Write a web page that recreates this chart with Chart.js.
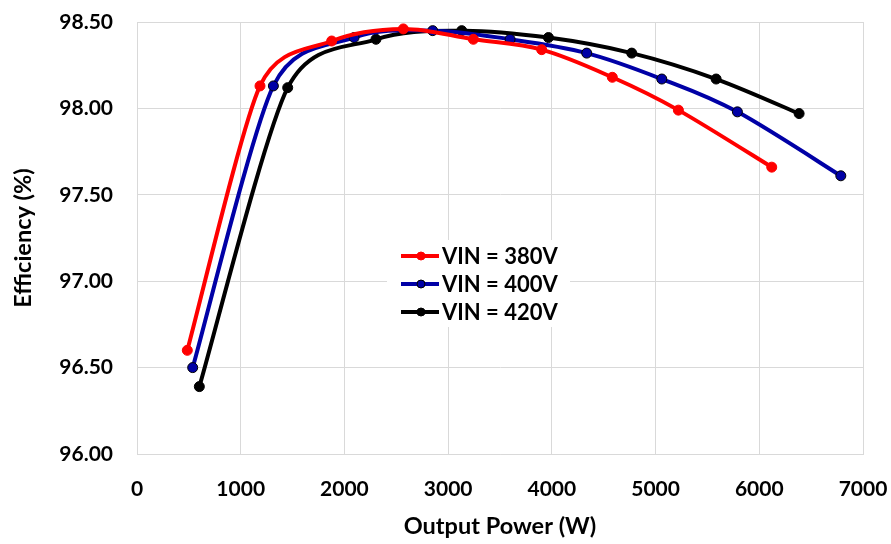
<!DOCTYPE html>
<html>
<head>
<meta charset="utf-8">
<script src="https://cdn.jsdelivr.net/npm/chart.js@4.4.0/dist/chart.umd.min.js"></script>
<style>
  html, body { margin: 0; padding: 0; background: #fff; }
  #wrap { width: 891px; height: 544px; }
</style>
</head>
<body>
<div id="wrap"><canvas id="myChart" width="891" height="544"></canvas></div>
<script>
// data
const labels = ['VIN = 380V', 'VIN = 400V', 'VIN = 420V'];
const power380 = [485, 1186, 1877, 2568, 3243, 3902, 4583, 5220, 6120];
const eff380 = [96.60, 98.13, 98.39, 98.46, 98.40, 98.34, 98.18, 97.99, 97.66];
const power400 = [537, 1315, 2093, 2851, 3597, 4336, 5060, 5789, 6786];
const eff400 = [96.50, 98.13, 98.41, 98.45, 98.40, 98.32, 98.17, 97.98, 97.61];
const power420 = [601, 1453, 2304, 3131, 3967, 4770, 5584, 6384];
const eff420 = [96.39, 98.12, 98.40, 98.45, 98.41, 98.32, 98.17, 97.97];
const yTicks = [96.00, 96.50, 97.00, 97.50, 98.00, 98.50];
const xTicks = [0, 1000, 2000, 3000, 4000, 5000, 6000, 7000];

const FONT = 'Lato';
const gridColor = '#D9D9D9';

function toPoints(xs, ys) {
    return xs.map((x, i) => ({ x: x, y: ys[i] }));
}

function series(label, xs, ys, color, border) {
    return {
        label: label,
        data: toPoints(xs, ys),
        borderColor: color,
        backgroundColor: color,
        pointBackgroundColor: color,
        pointBorderColor: border,
        pointBorderWidth: 1,
        pointRadius: 5,
        borderWidth: 4,
        tension: 0.3,
        fill: false
    };
}

// spreadsheet-style smoothing: tangent = 1/6 of neighbour span,
// shortened to half of the shorter segment when needed
const dist = (a, b) => Math.hypot(a.x - b.x, a.y - b.y);
const excelSmooth = {
    id: 'excelSmooth',
    beforeDatasetDraw(chart, args) {
        const pts = args.meta.data;
        const n = pts.length;
        for (let i = 0; i < n; i++) {
            const p = pts[i];
            const prev = pts[Math.max(i - 1, 0)];
            const next = pts[Math.min(i + 1, n - 1)];
            let f = 1 / 6;
            if (i > 0 && i < n - 1) {
                const d02 = dist(prev, next);
                const lim = Math.min(dist(prev, p), dist(p, next)) / 2;
                if (d02 * f > lim) f = lim / d02;
            }
            const tx = (next.x - prev.x) * f;
            const ty = (next.y - prev.y) * f;
            p.cp1x = p.x - tx;
            p.cp1y = p.y - ty;
            p.cp2x = p.x + tx;
            p.cp2y = p.y + ty;
        }
        args.meta.dataset._pointsUpdated = true;
        args.meta.dataset._path = undefined;
    }
};

// legend drawn inside the plot, like the original
const insideLegend = {
    id: 'insideLegend',
    afterDatasetsDraw(chart) {
        const ctx = chart.ctx;
        ctx.save();
        ctx.fillStyle = '#fff';
        ctx.fillRect(387, 240, 183, 87);
        const rows = [256, 284, 312];
        chart.data.datasets.forEach((ds, i) => {
            const y = rows[i];
            ctx.strokeStyle = ds.borderColor;
            ctx.lineWidth = 4;
            ctx.beginPath();
            ctx.moveTo(401, y);
            ctx.lineTo(439, y);
            ctx.stroke();
            ctx.beginPath();
            ctx.arc(421, y, 4, 0, Math.PI * 2);
            ctx.fillStyle = ds.pointBackgroundColor;
            ctx.fill();
            ctx.lineWidth = 1;
            ctx.strokeStyle = ds.pointBorderColor;
            ctx.stroke();
            ctx.fillStyle = '#000';
            ctx.font = 'bold 22px ' + FONT;
            ctx.textBaseline = 'middle';
            ctx.fillText(ds.label, 442, y + 1);
        });
        ctx.restore();
    }
};

var ctx = document.getElementById('myChart').getContext('2d');

var myChart = new Chart(ctx, {
    type: 'line',
    data: {
        datasets: [
            series(labels[0], power380, eff380, '#FF0000', '#FF0000'),
            series(labels[1], power400, eff400, '#0000A6', '#000000'),
            series(labels[2], power420, eff420, '#000000', '#000000')
        ]
    },
    options: {
        responsive: false,
        animation: false,
        layout: { padding: { left: 0, right: 28, top: 22, bottom: 0 } },
        scales: {
            x: {
                type: 'linear',
                min: 0,
                max: 7000,
                afterBuildTicks: (scale) => { scale.ticks = xTicks.map(v => ({ value: v })); },
                afterFit: (scale) => {
                    scale.height = 90;
                    scale.paddingLeft = 0;
                    scale.paddingRight = 0;
                },
                grid: { color: gridColor, drawTicks: false },
                border: { color: gridColor },
                ticks: {
                    padding: 23,
                    color: '#000',
                    font: { family: FONT, size: 21, weight: 'bold' },
                    callback: (v) => String(v)
                },
                title: {
                    display: true,
                    text: 'Output Power (W)',
                    color: '#000',
                    font: { family: FONT, size: 23.5, weight: 'bold' },
                    padding: { top: 0, bottom: 3 }
                }
            },
            y: {
                min: 96,
                max: 98.5,
                afterBuildTicks: (scale) => { scale.ticks = yTicks.map(v => ({ value: v })); },
                afterFit: (scale) => {
                    scale.width = 137;
                    scale.paddingTop = 0;
                    scale.paddingBottom = 0;
                },
                grid: { color: gridColor, drawTicks: false },
                border: { color: gridColor },
                ticks: {
                    padding: 24,
                    color: '#000',
                    font: { family: FONT, size: 21, weight: 'bold' },
                    callback: (v) => Number(v).toFixed(2)
                },
                title: {
                    display: true,
                    text: 'Efficiency (%)',
                    color: '#000',
                    font: { family: FONT, size: 23.5, weight: 'bold' },
                    padding: { top: 9, bottom: 0 }
                }
            }
        },
        plugins: {
            legend: { display: false },
            tooltip: { enabled: false }
        }
    },
    plugins: [excelSmooth, insideLegend]
});
</script>
</body>
</html>
